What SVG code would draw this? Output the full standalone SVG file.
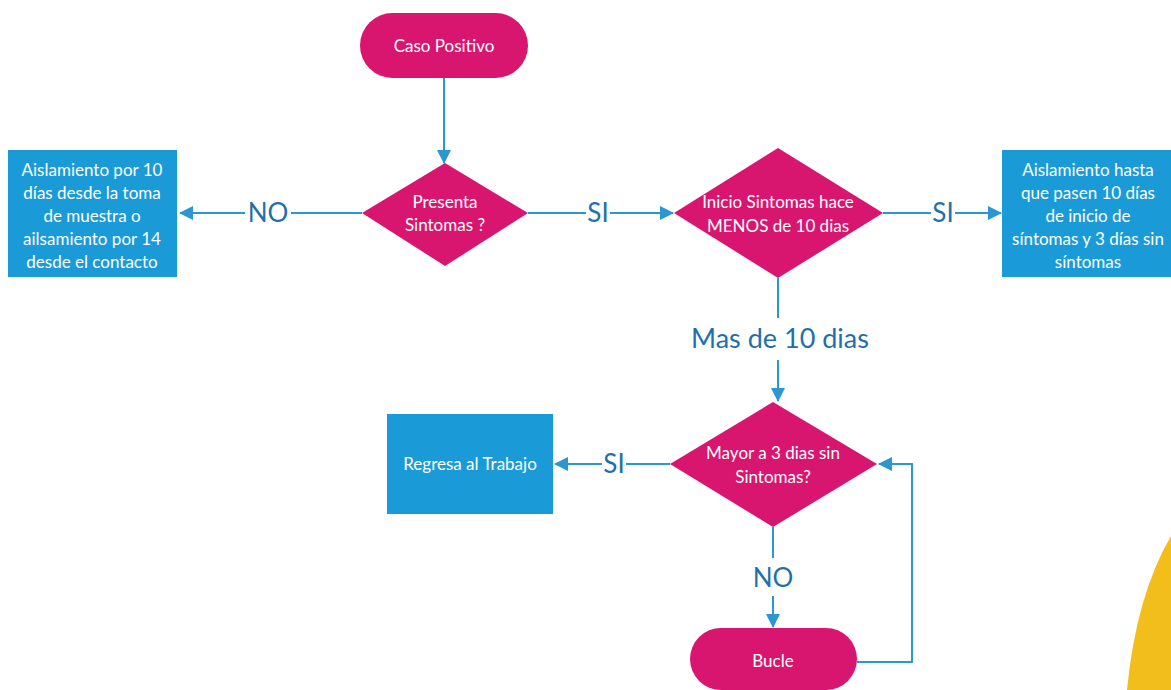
<svg xmlns="http://www.w3.org/2000/svg" width="1171" height="690" viewBox="0 0 1171 690">
<defs>
<marker id="ah" markerWidth="14" markerHeight="14" refX="13" refY="7" orient="auto" markerUnits="userSpaceOnUse">
<path d="M0,0 L14,7 L0,14 Z" fill="#2a96d2"/>
</marker>
<style>
.mag{fill:#d8166f}
.box{fill:#1a9bd7}
.nt{font-family:Lato,"Open Sans","Liberation Sans",sans-serif;font-size:17px;fill:#ffffff;text-anchor:middle}
.ln{stroke:#2a96d2;stroke-width:2;fill:none}
.lb{font-family:Lato,"Open Sans","Liberation Sans",sans-serif;font-size:26px;fill:#1f70aa;text-anchor:middle}
</style>
</defs>
<rect width="1171" height="690" fill="#ffffff"/>
<path d="M1171,536 Q1136,596 1127,690 L1171,690 Z" fill="#f1be1b"/>
<g id="connectors">
<line class="ln" x1="444" y1="78" x2="444" y2="163" marker-end="url(#ah)"/>
<line class="ln" x1="362" y1="213" x2="291" y2="213"/>
<line class="ln" x1="245" y1="213" x2="180" y2="213" marker-end="url(#ah)"/>
<text class="lb" x="268" y="222">NO</text>
<line class="ln" x1="528" y1="213" x2="586" y2="213"/>
<line class="ln" x1="610" y1="213" x2="673" y2="213" marker-end="url(#ah)"/>
<text class="lb" x="598" y="222">SI</text>
<line class="ln" x1="883" y1="213" x2="931" y2="213"/>
<line class="ln" x1="955" y1="213" x2="1001" y2="213" marker-end="url(#ah)"/>
<text class="lb" x="943" y="222">SI</text>
<line class="ln" x1="778" y1="278" x2="778" y2="318"/>
<line class="ln" x1="778" y1="360" x2="778" y2="401" marker-end="url(#ah)"/>
<text class="lb" x="780" y="348" style="font-size:27px">Mas de 10 dias</text>
<line class="ln" x1="670" y1="464" x2="626" y2="464"/>
<line class="ln" x1="602" y1="464" x2="555" y2="464" marker-end="url(#ah)"/>
<text class="lb" x="614" y="473">SI</text>
<line class="ln" x1="773" y1="527" x2="773" y2="558"/>
<line class="ln" x1="773" y1="596" x2="773" y2="627" marker-end="url(#ah)"/>
<text class="lb" x="773" y="587">NO</text>
<polyline class="ln" points="857,662 912,662 912,464 879,464" marker-end="url(#ah)"/>
</g>
<g id="caso-positivo">
<rect class="mag" x="360" y="13" width="168" height="65" rx="32.5"/>
<text class="nt" x="444" y="52">Caso Positivo</text>
</g>
<g id="presenta-sintomas">
<polygon class="mag" points="445,163 528,213 445,266 362,213"/>
<text class="nt" x="445" y="208">Presenta</text>
<text class="nt" x="445" y="231">Sintomas ?</text>
</g>
<g id="aislamiento-no">
<rect class="box" x="8" y="150" width="169" height="127"/>
<text class="nt" x="92" y="176">Aislamiento por 10</text>
<text class="nt" x="92" y="199">días desde la toma</text>
<text class="nt" x="92" y="222">de muestra o</text>
<text class="nt" x="92" y="245">ailsamiento por 14</text>
<text class="nt" x="92" y="268">desde el contacto</text>
</g>
<g id="inicio-sintomas">
<polygon class="mag" points="778,148 883,213 778,278 674,213"/>
<text class="nt" x="778" y="208">Inicio Sintomas hace</text>
<text class="nt" x="778" y="232">MENOS de 10 dias</text>
</g>
<g id="aislamiento-si">
<rect class="box" x="1002" y="150" width="169" height="127"/>
<text class="nt" x="1088" y="176">Aislamiento hasta</text>
<text class="nt" x="1088" y="199">que pasen 10 días</text>
<text class="nt" x="1088" y="222">de inicio de</text>
<text class="nt" x="1088" y="245">síntomas y 3 días sin</text>
<text class="nt" x="1088" y="268">síntomas</text>
</g>
<g id="mayor-3-dias">
<polygon class="mag" points="773,402 877,464 773,527 670,464"/>
<text class="nt" x="773" y="459">Mayor a 3 dias sin</text>
<text class="nt" x="773" y="483">Sintomas?</text>
</g>
<g id="regresa-trabajo">
<rect class="box" x="387" y="414" width="166" height="100"/>
<text class="nt" x="470" y="470">Regresa al Trabajo</text>
</g>
<g id="bucle">
<rect class="mag" x="690" y="628" width="167" height="62" rx="31"/>
<text class="nt" x="773" y="667">Bucle</text>
</g>
</svg>
